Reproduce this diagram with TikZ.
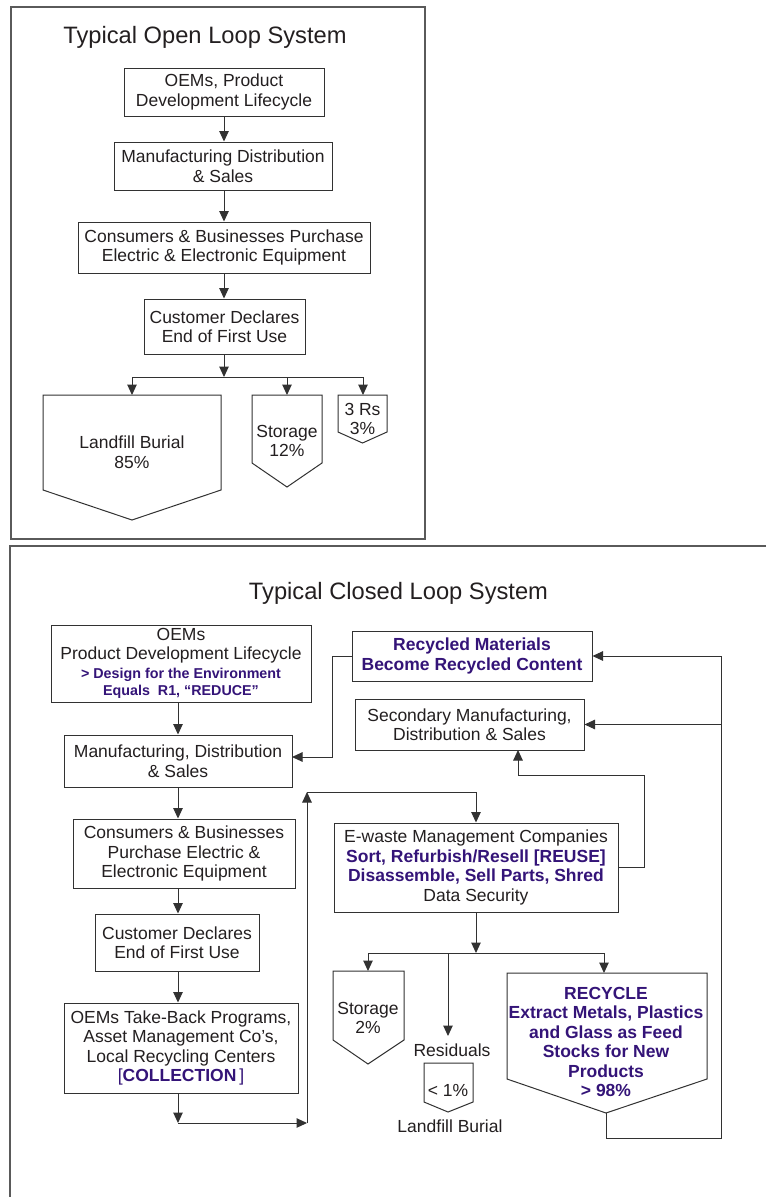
\documentclass[tikz,border=0pt]{standalone}
\usepackage{fontspec}
\setmainfont{Liberation Sans}
\usetikzlibrary{arrows.meta}
\definecolor{txt}{RGB}{35,31,32}
\definecolor{lnc}{RGB}{50,50,50}
\definecolor{frm}{RGB}{90,90,90}
\definecolor{pur}{RGB}{52,20,120}
\newcommand\bodyf{\fontsize{17.5}{19.5}\selectfont}
\newcommand\smallpb{\fontsize{14.3}{17}\selectfont\bfseries\color{pur}}
\newcommand\bigpb{\bfseries\color{pur}}
\begin{document}
\begin{tikzpicture}[x=1pt,y=-1pt,
  box/.style={draw=lnc, line width=1pt, inner sep=0pt, align=center, text=txt, font=\bodyf},
  lbl/.style={inner sep=0pt, align=center, text=txt, font=\bodyf},
  ttl/.style={inner sep=0pt, text=txt, font=\fontsize{23.7}{26}\selectfont},
  arr/.style={draw=lnc, line width=1pt, -{Triangle[length=10.5pt,width=9.5pt]}},
  conn/.style={draw=lnc, line width=1pt},
  shp/.style={draw=lnc, line width=1pt, fill=white, line join=miter},
  frame/.style={draw=frm, line width=1.3pt}]
\useasboundingbox[fill=white] (0,0) rectangle (766,1197);

% ---------------- Open loop ----------------
\draw[frame] (11,7) rectangle (425,539);
\node[ttl] (t1) at (205,37) {Typical Open Loop System};

\node[box, minimum width=200pt, minimum height=48pt] (o1) at (224,92) {OEMs, Product\\Development Lifecycle};
\node[box, minimum width=218pt, minimum height=48pt] (o2) at (223,166) {Manufacturing Distribution\\\& Sales};
\node[box, minimum width=292pt, minimum height=51pt] (o3) at (224,247.5) {Consumers \& Businesses Purchase\\Electric \& Electronic Equipment};
\node[box, minimum width=161pt, minimum height=55pt] (o4) at (224.5,326.5) {Customer Declares\\End of First Use};

\draw[arr] (o1.south -| 224,0) -- (o2.north -| 224,0);
\draw[arr] (o2.south -| 224,0) -- (o3.north -| 224,0);
\draw[arr] (o3.south -| 224,0) -- (o4.north -| 224,0);

\coordinate (br) at (224,377);
\coordinate (brL) at (132,377);
\coordinate (brM) at (287,377);
\coordinate (brR) at (363,377);
\coordinate (lfT) at (132,395);
\coordinate (stT) at (287,395);
\coordinate (rrT) at (363,395);

\draw[shp] (43,395) -- (221,395) -- (221,490) -- (132,520) -- (43,490) -- cycle;
\draw[shp] (252,395) -- (322,395) -- (322,463) -- (287,487) -- (252,463) -- cycle;
\draw[shp] (338,395) -- (387,395) -- (387,432) -- (362.5,443) -- (338,432) -- cycle;
\node[lbl] (lf) at (132,452) {Landfill Burial\\85\%};
\node[lbl] (st) at (287,441) {Storage\\12\%};
\node[lbl] (rr) at (362.5,419) {3 Rs\\3\%};

\draw[arr] (o4.south -| br) -- (br);
\draw[conn] (brL) -- (brR);
\draw[arr] (brL) -- (lfT);
\draw[arr] (brM) -- (stT);
\draw[arr] (brR) -- (rrT);

% ---------------- Closed loop ----------------
\draw[frame] (766,546) -- (10,546) -- (10,1197);
\node[ttl] (t2) at (398.5,593) {Typical Closed Loop System};

\node[box, minimum width=260pt, minimum height=77pt] (c1) at (181,663.5)
  {OEMs\\Product Development Lifecycle\\[-1pt]{\smallpb > Design for the Environment}\\[-2pt]{\smallpb Equals\ \ R1, “REDUCE”}};
\node[box, minimum width=228pt, minimum height=52pt] (c2) at (178,761) {Manufacturing, Distribution\\\& Sales};
\node[box, minimum width=222pt, minimum height=69pt] (c3) at (184,853.5) {Consumers \& Businesses\\Purchase Electric \&\\Electronic Equipment};
\node[box, minimum width=164pt, minimum height=57pt] (c4) at (177,942.5) {Customer Declares\\End of First Use};
\node[box, minimum width=234pt, minimum height=90pt] (c5) at (181,1048) {OEMs Take-Back Programs,\\Asset Management Co’s,\\Local Recycling Centers\\{\color{pur}[\textbf{COLLECTION}\,]}};

\node[box, minimum width=240pt, minimum height=50pt] (rm) at (472,656) {{\bigpb Recycled Materials}\\{\bigpb Become Recycled Content}};
\node[box, minimum width=229pt, minimum height=51pt] (sm) at (469.5,724.5) {Secondary Manufacturing,\\Distribution \& Sales};
\node[box, minimum width=284pt, minimum height=89pt] (ew) at (476,867.5) {E-waste Management Companies\\{\bigpb Sort, Refurbish/Resell [REUSE]}\\{\bigpb Disassemble, Sell Parts, Shred}\\Data Security};

\coordinate (ax) at (178,0);
\draw[arr] (c1.south -| ax) -- (c2.north -| ax);
\draw[arr] (c2.south -| ax) -- (c3.north -| ax);
\draw[arr] (c3.south -| ax) -- (c4.north -| ax);
\draw[arr] (c4.south -| ax) -- (c5.north -| ax);

% recycled content -> manufacturing
\coordinate (q1) at (332,656);
\coordinate (q2) at (332,757);
\coordinate (q3) at (292,757);
\draw[arr] (rm.west) -- (q1) -- (q2) -- (q3);

% collection loop to e-waste
\coordinate (p1) at (178,1123);
\coordinate (p2) at (307,1123);
\coordinate (p3) at (307,792);
\coordinate (p4) at (476,792);
\draw[arr] (c5.south -| p1) -- (p1);
\draw[arr] (p1) -- (p2);
\draw[arr] (p2) -- (p3);
\draw[arr] (p3) -- (p4) -- (ew.north -| p4);

% e-waste -> secondary manufacturing
\coordinate (s1) at (644,867);
\coordinate (s2) at (644,775);
\coordinate (s3) at (518,775);
\coordinate (s4) at (518,750);
\draw[arr] (ew.east |- s1) -- (s1) -- (s2) -- (s3) -- (s4);

% outputs
\coordinate (b1) at (476,953);
\coordinate (bL) at (368,953);
\coordinate (bM) at (448,953);
\coordinate (bR) at (604,953);
\coordinate (stT2) at (368,971);
\coordinate (rsT) at (448,1036);
\coordinate (rcT) at (604,973);

\draw[shp] (333,971) -- (404,971) -- (404,1040) -- (368,1064) -- (333,1040) -- cycle;
\node[lbl] (st2) at (368,1018) {Storage\\2\%};
\node[lbl] (res) at (452,1050) {Residuals};
\draw[shp] (424,1063) -- (473,1063) -- (473,1102) -- (448,1112) -- (424,1102) -- cycle;
\node[lbl] (lt1) at (448,1090) {< 1\%};
\node[lbl] (lb2) at (450,1126) {Landfill Burial};

\draw[shp] (507,973) -- (707,973) -- (707,1079) -- (606,1113) -- (507,1079) -- cycle;
\coordinate (rcP) at (606,1113);
\node[lbl, font=\bodyf\bfseries, text=pur] (rc) at (606,1042) {RECYCLE\\Extract Metals, Plastics\\and Glass as Feed\\Stocks for New\\Products\\> 98\%};

\draw[arr] (ew.south -| b1) -- (b1);
\draw[conn] (bL) -- (bR);
\draw[arr] (bL) -- (stT2);
\draw[arr] (bM) -- (rsT);
\draw[arr] (bR) -- (rcT);

% recycle loop back
\coordinate (r1) at (606,1138);
\coordinate (r2) at (721,1138);
\coordinate (r3) at (721,656);
\draw[arr] (rcP) -- (r1) -- (r2) -- (r3) -- (rm.east);
\draw[arr] (r2 |- sm.east) -- (sm.east);
\end{tikzpicture}
\end{document}
